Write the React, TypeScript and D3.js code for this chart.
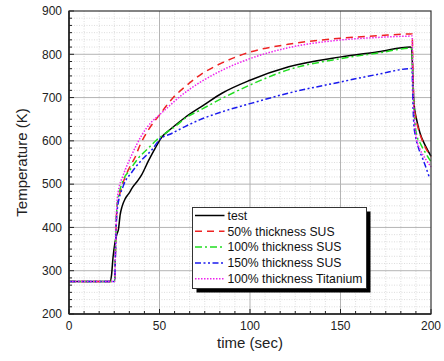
import React from "react";
import * as d3 from "d3";

const xTicks = [0, 50, 100, 150, 200];
const yTicks = [200, 300, 400, 500, 600, 700, 800, 900];

const testT = [0, 22.6, 23.5, 24.3, 25.4, 26.5, 27.3, 28.3, 29.3, 31, 33, 35, 38, 40.2, 43.8, 47.5, 51.2, 56.7, 64.1, 74.2, 84.5, 100, 121.4, 150.3, 171, 188.6, 189.3, 189.8, 190.6, 192, 194, 197, 200];
const testV = [275, 275, 290, 330, 365, 385, 395, 430, 448, 466, 478, 492, 508, 522, 553, 582, 608, 629, 654, 682, 710, 740, 771, 794, 806, 817, 814, 770, 686, 650, 617, 588, 565];

const sus50T = [0, 25.2, 25.6, 26, 26.6, 28.2, 30, 33, 36.5, 39.2, 43.8, 50, 57.6, 65, 72.4, 84.5, 100, 121, 150, 171, 189.6, 190, 190.5, 191.5, 193, 196, 200];
const sus50V = [275, 275, 330, 400, 450, 480, 505, 535, 562, 590, 625, 660, 700, 728, 752, 780, 805, 823, 837, 843, 847, 760, 690, 655, 628, 593, 563];

const sus100T = [0, 25.2, 25.6, 26, 26.6, 29.1, 33.7, 38.3, 43.8, 48.4, 53, 59.5, 64.1, 72.4, 84.5, 100, 121, 150, 171, 188.8, 189.5, 190, 190.8, 192, 194, 197, 200];
const sus100V = [275, 275, 330, 400, 450, 500, 533, 560, 583, 602, 617, 636, 652, 671, 698, 729, 764, 790, 803, 814, 808, 730, 660, 615, 595, 572, 552];

const sus150T = [0, 25.2, 25.6, 26, 26.6, 30, 34.6, 40.2, 45.7, 50.3, 56.7, 64.1, 72.4, 84.5, 100, 121, 150, 171, 189.5, 190, 190.5, 191.5, 193, 195.7, 199];
const sus150V = [275, 275, 330, 395, 440, 496, 527, 556, 579, 604, 617, 633, 649, 667, 686, 710, 736, 754, 767, 690, 640, 609, 585, 556, 517];

const tiT = [0, 25.2, 25.6, 26, 26.5, 27.2, 30, 34.6, 40.2, 45.7, 50, 62.4, 84.5, 100, 121, 150, 171, 189.6, 190, 190.6, 192, 194, 197, 200];
const tiV = [275, 275, 330, 400, 455, 482, 521, 567, 613, 644, 660, 706, 763, 790, 815, 833, 839, 842, 740, 670, 605, 580, 558, 540];

const seriesNames = ["test", "50% thickness SUS", "100% thickness SUS", "150% thickness SUS", "100% thickness Titanium"];
const seriesColors = ["#000000", "#ee2222", "#22dd22", "#1a1aee", "#ee22ee"];
const seriesDash = ["", "7,5", "7,3,2,3", "6,2.5,2,2.5,2,2.5", "1.5,1.5"];

const W = 444, H = 361;
const L = 69, R = 431, T = 11, B = 314;

export default function App() {
  const x = d3.scaleLinear().domain([0, 200]).range([L, R]);
  const y = d3.scaleLinear().domain([200, 900]).range([B, T]);
  const data: [number[], number[]][] = [
    [testT, testV], [sus50T, sus50V], [sus100T, sus100V], [sus150T, sus150V], [tiT, tiV],
  ];
  const line = d3.line<[number, number]>().x(d => x(d[0])).y(d => y(d[1])).curve(d3.curveMonotoneX);

  const xMinor: number[] = [];
  for (let i = 0; i <= 24; i++) xMinor.push((i * 50) / 6);
  const yMinor: number[] = [];
  for (let i = 0; i <= 42; i++) yMinor.push(200 + (i * 100) / 6);

  const font = "Liberation Sans, Arial, sans-serif";
  const lgX = 192.5, lgY = 207.5, lgW = 174, lgH = 81;
  const rowY = (i: number) => 215.5 + i * 15.8;

  return (
    <svg width={W} height={H} style={{ position: "absolute", left: 0, top: 0, background: "#fff" }}>
      <rect x={0} y={0} width={W} height={H} fill="#fff" />
      {xMinor.filter((_, i) => i % 6 !== 0).map((v, i) => (
        <line key={"xm" + i} x1={x(v)} x2={x(v)} y1={T} y2={B} stroke="#d4d4d4" strokeWidth={0.8} strokeDasharray="1,1.5" />
      ))}
      {yMinor.filter((_, i) => i % 6 !== 0).map((v, i) => (
        <line key={"ym" + i} x1={L} x2={R} y1={y(v)} y2={y(v)} stroke="#d4d4d4" strokeWidth={0.8} strokeDasharray="1,1.5" />
      ))}
      {xTicks.slice(1, -1).map(v => (
        <line key={"xg" + v} x1={x(v)} x2={x(v)} y1={T} y2={B} stroke="#b4b4b4" strokeWidth={1} />
      ))}
      {yTicks.slice(1, -1).map(v => (
        <line key={"yg" + v} x1={L} x2={R} y1={y(v)} y2={y(v)} stroke="#b4b4b4" strokeWidth={1} />
      ))}
      {data.map((d, i) => (
        <path key={"s" + i} d={line(d[0].map((t, j) => [t, d[1][j]] as [number, number])) || ""}
          fill="none" stroke={seriesColors[i]} strokeWidth={1.5} strokeDasharray={seriesDash[i] || undefined} />
      ))}
      <rect x={L} y={T} width={R - L} height={B - T} fill="none" stroke="#333" strokeWidth={1.2} />
      <line x1={L} x2={L} y1={T} y2={B} stroke="#222" strokeWidth={1.6} />
      <line x1={L} x2={R} y1={B} y2={B} stroke="#222" strokeWidth={1.6} />
      {xMinor.map((v, i) => (
        <line key={"xt" + i} x1={x(v)} x2={x(v)} y1={B} y2={B - (i % 6 === 0 ? 5 : 3)} stroke="#222" strokeWidth={1} />
      ))}
      {yMinor.map((v, i) => (
        <line key={"yt" + i} x1={L} x2={L + (i % 6 === 0 ? 5 : 3)} y1={y(v)} y2={y(v)} stroke="#222" strokeWidth={1} />
      ))}
      {xTicks.map(v => (
        <text key={"xl" + v} x={x(v)} y={330} textAnchor="middle" fontFamily={font} fontSize={12} fill="#222">{v}</text>
      ))}
      {yTicks.map(v => (
        <text key={"yl" + v} x={62} y={y(v) + 4.3} textAnchor="end" fontFamily={font} fontSize={12} fill="#222">{v}</text>
      ))}
      <text x={(L + R) / 2} y={348} textAnchor="middle" fontFamily={font} fontSize={15} fill="#222">time (sec)</text>
      <text transform={`translate(27,${(T + B) / 2}) rotate(-90)`} textAnchor="middle" fontFamily={font} fontSize={15} fill="#222">Temperature (K)</text>
      <rect x={lgX + 4} y={lgY + 4} width={lgW} height={lgH} fill="#000" />
      <rect x={lgX} y={lgY} width={lgW} height={lgH} fill="#fff" stroke="#333" strokeWidth={1} />
      {seriesNames.map((n, i) => (
        <g key={"lg" + i}>
          <line x1={195} x2={224.5} y1={rowY(i)} y2={rowY(i)} stroke={seriesColors[i]} strokeWidth={1.5} strokeDasharray={seriesDash[i] || undefined} />
          <text x={227.5} y={rowY(i) + 4.3} fontFamily={font} fontSize={12.2} fill="#111">{n}</text>
        </g>
      ))}
    </svg>
  );
}
